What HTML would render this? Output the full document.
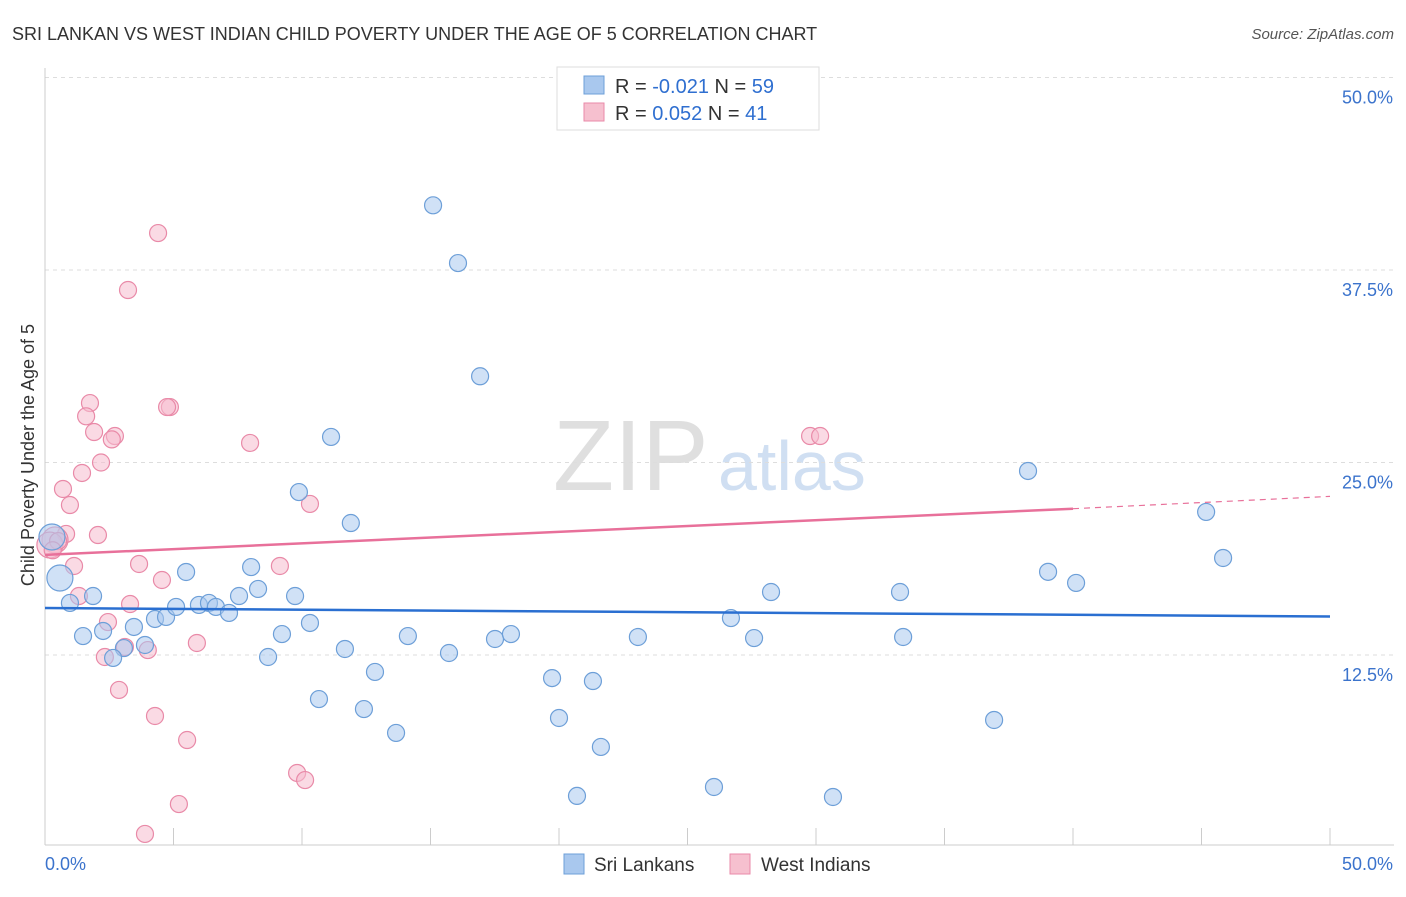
<!DOCTYPE html>
<html><head><meta charset="utf-8"><style>
body{margin:0;background:#fff;font-family:"Liberation Sans",sans-serif}
svg text{font-family:"Liberation Sans",sans-serif}
</style></head><body>
<svg width="1406" height="892" viewBox="0 0 1406 892">
<text x="12" y="40" font-size="18" fill="#333">SRI LANKAN VS WEST INDIAN CHILD POVERTY UNDER THE AGE OF 5 CORRELATION CHART</text>
<text x="1394" y="39" font-size="15" fill="#555" text-anchor="end" font-style="italic">Source: ZipAtlas.com</text>
<g>
<text x="553" y="490" font-size="100" fill="#d8d8d8" font-family="Liberation Serif,serif" opacity="0.8">ZIP</text>
<text x="718" y="490" font-size="70" fill="#c5d8ef" opacity="0.8">atlas</text>
</g>
<g id="grid"></g>
<g id="axes"></g>
<g id="marks"></g>
<text transform="translate(34,455) rotate(-90)" font-size="18" fill="#333" text-anchor="middle">Child Poverty Under the Age of 5</text>
<g>
<rect x="557" y="67" width="262" height="63" fill="#fff" stroke="#ddd"/>
<rect x="584" y="76" width="20" height="18" fill="#a9c8ee" stroke="#6d9fd8"/>
<rect x="584" y="103" width="20" height="18" fill="#f6c0cf" stroke="#e98aa8"/>
<text x="615" y="93" font-size="20" fill="#333">R = <tspan fill="#2f6fd0">-0.021</tspan>   N = <tspan fill="#2f6fd0">59</tspan></text>
<text x="615" y="120" font-size="20" fill="#333">R =  <tspan fill="#2f6fd0">0.052</tspan>   N =  <tspan fill="#2f6fd0">41</tspan></text>
</g>
<g>
<rect x="564" y="854" width="20" height="20" fill="#a9c8ee" stroke="#6d9fd8"/>
<text x="594" y="871" font-size="19" fill="#333">Sri Lankans</text>
<rect x="730" y="854" width="20" height="20" fill="#f6c0cf" stroke="#e98aa8"/>
<text x="761" y="871" font-size="19" fill="#333">West Indians</text>
</g>
</svg>
<script>
const yTicks=[12.5,25.0,37.5,50.0];
const yTickLabels=["12.5%","25.0%","37.5%","50.0%"];
const xTicks=[0,5,10,15,20,25,30,35,40,45,50];
const xEndLabels=["0.0%","50.0%"];
const blueX=[15.1,16.07,16.93,11.13,38.25,9.88,11.9,45.18,45.84,39.03,40.12,0.27,0.58,0.97,1.87,1.48,2.26,3.46,3.07,2.65,3.89,4.28,4.71,5.1,5.49,5.99,6.38,6.65,7.16,7.55,8.02,8.29,9.73,10.31,9.22,8.68,11.67,12.84,10.66,12.41,13.66,14.12,15.72,17.51,18.13,19.73,21.32,20.0,21.63,20.7,23.07,26.69,28.25,27.59,26.03,30.66,33.27,33.39,36.93];
const blueY=[41.7,37.95,30.6,26.66,24.45,23.08,21.07,21.79,18.8,17.9,17.18,20.16,17.5,15.88,16.33,13.73,14.06,14.32,12.95,12.31,13.15,14.84,14.97,15.62,17.89,15.75,15.88,15.62,15.23,16.33,18.21,16.79,16.33,14.58,13.86,12.37,12.89,11.4,9.64,8.99,7.44,13.73,12.63,13.54,13.86,11.0,10.81,8.41,6.53,3.35,13.67,14.9,16.59,13.6,3.93,3.28,16.59,13.67,8.28];
const blueBig=[11,12];
const pinkX=[4.4,3.23,1.75,1.6,4.86,1.91,2.72,2.6,7.98,2.18,1.44,0.7,0.97,10.31,2.06,0.82,0.39,0.19,0.51,1.13,3.66,9.14,4.55,1.32,3.31,2.45,3.11,2.33,4.0,5.91,2.88,4.28,5.53,9.81,10.12,5.21,3.89,29.77,30.16,4.75,0.3];
const pinkY=[39.9,36.2,28.86,28.0,28.6,26.98,26.72,26.5,26.27,25.0,24.32,23.28,22.24,22.31,20.29,20.36,19.97,19.64,19.9,18.28,18.41,18.28,17.37,16.33,15.81,14.64,13.02,12.37,12.82,13.28,10.23,8.54,6.98,4.84,4.38,2.82,0.88,26.72,26.72,28.6,19.3];
const pinkBig=[16,17];
const blueTrend=[15.55,15.0];
const pinkTrend=[19.0,22.0,22.8];
const pinkTrendEnd=40;

const NS="http://www.w3.org/2000/svg";
const X0=45,X1=1330,Y0=847.5,Y1=77.5;
const sx=v=>X0+(v/50)*(X1-X0);
const sy=v=>Y0-(v/50)*(Y0-Y1);
function mk(tag,attrs,parent){const e=document.createElementNS(NS,tag);for(const k in attrs)e.setAttribute(k,attrs[k]);document.getElementById(parent).appendChild(e);return e;}
yTicks.forEach((t,i)=>{
 const g=mk('line',{x1:X0,x2:1394,y1:sy(t),y2:sy(t),stroke:'#ddd','stroke-dasharray':'4,4'},'grid');
 
 
 const l=mk('text',{x:1393,y:sy(t)+26,'font-size':18,fill:'#3b73cc','text-anchor':'end'},'axes');
 l.textContent=yTickLabels[i];
 
 
});
const ax=mk('line',{x1:X0,x2:1394,y1:845,y2:845,stroke:'#ccc'},'axes');


const ay=mk('line',{x1:X0,x2:X0,y1:68,y2:845,stroke:'#ccc'},'axes');


xTicks.forEach(t=>{
 const k=mk('line',{x1:sx(t),x2:sx(t),y1:828,y2:845,stroke:'#ccc'},'axes');
 
 
});
const xl0=mk('text',{x:45,y:870,'font-size':18,fill:'#3b73cc'},'axes');xl0.textContent=xEndLabels[0];


const xl1=mk('text',{x:1393,y:870,'font-size':18,fill:'#3b73cc','text-anchor':'end'},'axes');xl1.textContent=xEndLabels[1];


function dots(xs,ys,big,fill,stroke,name){
 xs.forEach((x,i)=>{
  const r=big.includes(i)?13:8.5;
  const c=mk('circle',{cx:sx(x),cy:sy(ys[i]),r:r,fill:fill,'fill-opacity':0.55,stroke:stroke,'stroke-width':1.2},'marks');
  
  
 });
}
dots(pinkX,pinkY,pinkBig,'#f6bccd','#e98aa8','west-indian-point');
dots(blueX,blueY,blueBig,'#a9c8ee','#6d9fd8','sri-lankan-point');
const bl=mk('line',{x1:sx(0),y1:sy(blueTrend[0]),x2:sx(50),y2:sy(blueTrend[1]),stroke:'#2a6fd1','stroke-width':2.5},'marks');


const pl=mk('line',{x1:sx(0),y1:sy(pinkTrend[0]),x2:sx(pinkTrendEnd),y2:sy(pinkTrend[1]),stroke:'#e8709a','stroke-width':2.5},'marks');


const pd=mk('line',{x1:sx(pinkTrendEnd),y1:sy(pinkTrend[1]),x2:sx(50),y2:sy(pinkTrend[2]),stroke:'#e8709a','stroke-width':1.2,'stroke-dasharray':'6,5'},'marks');


</script>
</body></html>
